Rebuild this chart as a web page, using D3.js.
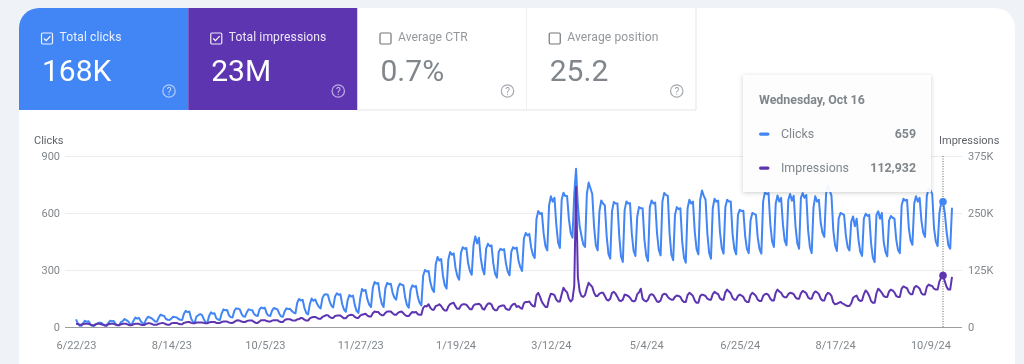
<!DOCTYPE html>
<html><head><meta charset="utf-8">
<script src="https://cdn.jsdelivr.net/npm/d3@7/dist/d3.min.js"></script>
<style>html,body{margin:0;padding:0;background:#eff3f8;overflow:hidden}svg{display:block;font-family:Roboto,sans-serif;filter:blur(0.35px)}</style>
</head><body><svg id="c" width="1024" height="364"></svg>
<script>
const startDate = "2023-06-22";
const dayCount = 488;
const clicks = [
40,19,7,6,21,33,27, 30,15,6,5,13,20,23, 22,14,11,10,22,33,30, 31,16,10,9,26,31,42,
36,30,16,15,33,50,44, 48,30,20,19,40,54,50, 46,38,29,28,50,65,60, 58,42,38,37,45,54,52,
50,42,38,37,70,85,78, 82,45,27,25,55,62,68, 64,42,25,23,58,77,70, 72,46,39,37,72,93,88,
90,62,52,50,84,98,96, 94,70,56,54,78,93,90, 88,68,60,58,92,103,98, 101,72,60,58,86,100,96,
93,70,56,54,82,98,94, 96,84,76,72,128,147,140, 143,100,74,66,120,150,138, 145,122,106,98,152,170,172,
170,135,112,103,160,177,170, 172,120,92,80,140,168,160, 165,115,85,74,150,200,190, 195,145,118,105,205,237,228,
232,165,122,105,205,232,225, 228,180,155,144,205,228,222, 220,155,115,102,195,219,212, 216,160,128,114,270,300,292,
295,235,200,184,330,368,350, 358,270,220,202,355,395,380, 388,310,268,249,390,420,412, 416,335,295,275,430,477,440,
470,365,305,277,412,438,425, 430,335,280,260,395,412,405, 410,335,292,272,395,420,412, 418,350,315,295,465,495,482,
490,420,380,363,570,610,595, 600,490,425,403,640,688,660, 680,540,445,416,670,707,690, 690,570,495,470,700,833,640,
530,480,435,421,700,760,730, 700,530,430,403,610,666,650, 640,480,385,360,610,658,650, 650,480,370,342,615,661,650,
652,490,400,374,580,631,625, 625,460,375,347,630,666,650, 655,495,405,377,660,705,695, 690,490,380,351,590,631,620,
625,450,365,338,625,670,650, 660,500,410,382,670,719,690, 670,490,390,360,625,675,660, 665,500,415,386,630,670,660,
660,490,410,382,590,617,610, 612,480,410,389,560,600,595, 590,470,410,386,660,710,700, 705,540,450,421,650,692,660,
680,540,455,430,670,700,665, 690,530,440,412,680,705,680, 695,510,420,389,630,688,660, 670,550,495,474,700,745,720,
690,510,430,400,570,600,595, 590,480,420,403,555,582,530, 570,460,395,374,570,596,585, 590,440,365,342,590,609,570,
600,450,395,372,560,584,575, 570,460,405,389,640,675,665, 670,520,455,433,650,688,660, 680,560,495,474,690,728,720,
700,520,450,426,600,655,659, 600,500,430,412,628
];
const impressions = [
7000,6500,5000,5000,6500,7000,7000, 7000,5000,4000,4000,6000,7000,7000, 6000,5000,3000,3000,6000,7000,7000, 7000,5000,4000,4000,6000,7000,7000,
7000,5000,4000,4000,6000,7000,7000, 7000,5000,4500,4500,7000,8000,8000, 7000,5000,5000,5000,7000,8000,9000, 8000,6000,5000,5000,8000,9000,9000,
9000,7000,6000,6000,9000,10000,11000, 11000,9000,8000,8000,10000,10000,10000, 10000,9000,8000,8000,10000,11000,11000, 11000,9000,9000,9000,11000,12000,12000,
12000,10000,9000,9000,11000,14000,15000, 14000,12000,11000,11000,13000,14000,14000, 14000,11000,9000,9000,12000,15000,15000, 15000,13000,12000,12000,14000,15000,15000,
15000,12000,11000,11000,15000,17000,17000, 17000,15000,14000,14000,17000,17000,20000, 19000,16000,14000,14000,19000,21000,22000, 22000,20000,18000,18000,22000,24000,26000,
26000,22000,20000,20000,24000,25000,25000, 25000,22000,19000,19000,24000,26000,27000, 26000,22000,20000,20000,25000,27000,28000, 29000,25000,23000,23000,30000,34000,33000,
33000,28000,26000,26000,31000,34000,34000, 34000,30000,27000,27000,31000,33000,34000, 30000,26000,24000,24000,29000,33000,32000, 33000,28000,27000,27000,42000,46000,45000,
50000,42000,38000,38000,46000,47000,50000, 46000,40000,36000,36000,45000,50000,52000, 53000,45000,40000,40000,47000,50000,50000, 49000,44000,39000,39000,47000,50000,50000,
51000,48000,40000,38000,46000,51000,52000, 49000,40000,37000,37000,44000,46000,47000, 47000,40000,38000,38000,46000,50000,51000, 44000,46000,42000,40000,52000,55000,55000,
56000,50000,46000,45000,70000,75000,66000, 55000,49000,44000,44000,62000,73000,72000, 70000,60000,56000,56000,72000,86000,80000, 76000,62000,56000,60000,90000,307000,110000,
78000,68000,66000,70000,85000,97000,92000, 88000,75000,68000,68000,73000,75000,75000, 68000,60000,58000,62000,75000,77000,73000, 66000,58000,57000,60000,71000,70000,68000,
64000,58000,56000,58000,72000,76000,84000, 62000,58000,56000,60000,70000,72000,70000, 63000,56000,55000,58000,70000,73000,72000, 66000,62000,60000,60000,66000,69000,68000,
66000,58000,55000,55000,70000,75000,72000, 68000,58000,53000,53000,68000,71000,70000, 68000,62000,60000,60000,72000,77000,74000, 72000,63000,60000,60000,76000,82000,78000,
74000,64000,60000,60000,68000,71000,69000, 66000,58000,55000,55000,70000,75000,72000, 68000,60000,57000,57000,68000,72000,73000, 70000,62000,58000,58000,75000,82000,78000,
75000,68000,65000,65000,72000,75000,74000, 72000,65000,62000,62000,74000,79000,77000, 74000,65000,62000,62000,73000,78000,76000, 72000,62000,58000,58000,70000,75000,73000,
68000,54000,50000,51000,53000,55000,52000, 50000,47000,46000,46000,52000,64000,67000, 69000,60000,57000,58000,72000,80000,76000, 68000,57000,53000,53000,74000,84000,80000,
75000,68000,66000,66000,78000,82000,80000, 76000,68000,66000,66000,84000,89000,87000, 85000,76000,72000,72000,86000,90000,88000, 84000,74000,71000,71000,88000,93000,91000,
90000,84000,82000,82000,100000,108000,112932, 100000,88000,82000,82000,110000
];
const xTickDates = ["2023-06-22","2023-08-14","2023-10-05","2023-11-27","2024-01-19","2024-03-12","2024-05-04","2024-06-25","2024-08-17","2024-10-09"];
const xTickLabels = ["6/22/23","8/14/23","10/5/23","11/27/23","1/19/24","3/12/24","5/4/24","6/25/24","8/17/24","10/9/24"];
const clickTicks = [0,300,600,900];
const impressionTicks = [0,125000,250000,375000];
const impressionTickLabels = ["0","125K","250K","375K"];
const cardTitles = ["Total clicks","Total impressions","Average CTR","Average position"];
const cardValues = ["168K","23M","0.7%","25.2"];
const cardChecked = [true,true,false,false];
const cardFills = ["#4285f4","#5e35b1","#ffffff","#ffffff"];
const tooltipDate = "Wednesday, Oct 16";
const tooltipNames = ["Clicks","Impressions"];
const tooltipValues = ["659","112,932"];
const hoverDate = "2024-10-16";

const BLUE="#4285f4",PURPLE="#5e35b1",GREY="#80868b";
const svg=d3.select("#c");
const parse=d3.utcParse("%Y-%m-%d");
const t0=parse(startDate);
const dates=d3.range(dayCount).map(i=>d3.utcDay.offset(t0,i));
const x=d3.scaleUtc().domain([t0,dates[dayCount-1]]).range([76,952]);
const yL=d3.scaleLinear().domain([0,900]).range([327,156]);
const yR=d3.scaleLinear().domain([0,375000]).range([327,156]);

const defs=svg.append("defs");
const f=defs.append("filter").attr("id","sh").attr("x","-10%").attr("y","-10%").attr("width","120%").attr("height","125%");
f.append("feDropShadow").attr("dx",0).attr("dy",1).attr("stdDeviation",2).attr("flood-color","#3c4043").attr("flood-opacity",0.28);

// panel
svg.append("path").attr("d","M19 364V28a20 20 0 0 1 20-20H995a20 20 0 0 1 20 20V364Z").attr("fill","#fff");

// cards
const cardX=d3.scaleBand().domain(d3.range(4)).range([19,696]);
const cards=svg.selectAll("g.card").data(d3.range(4)).join("g").attr("class","card")
 .attr("transform",i=>`translate(${cardX(i)},8)`);
const W=cardX.bandwidth();
cards.append("path").attr("d",i=>i===0?`M0 102V20a20 20 0 0 1 20-20H${W}V102Z`:`M0 0H${W}V102H0Z`).attr("fill",i=>cardFills[i]);
cards.filter(i=>i>=2).append("path").attr("d",`M0 102H${W}M${W} 0V102`).attr("stroke","#e3e5e8").attr("fill","none");
const fg=i=>i<2?"#fff":GREY;
cards.append("rect").attr("x",22.5).attr("y",25).attr("width",11).attr("height",11).attr("rx",1.2)
 .attr("fill","none").attr("stroke",i=>i<2?"#fff":"#757575").attr("stroke-opacity",i=>i<2?0.9:1).attr("stroke-width",1.2);
cards.filter(i=>cardChecked[i]).append("path").attr("d","M25 30.5l2.2 2.2 4.2-4.6").attr("fill","none").attr("stroke","#fff").attr("stroke-width",1.2);
cards.append("text").attr("x",40.5).attr("y",33).attr("font-size",12.1).attr("letter-spacing",0.1).attr("fill",fg).attr("fill-opacity",i=>i<2?0.88:0.85).text(i=>cardTitles[i]);
cards.append("text").attr("x",23).attr("y",73).attr("font-size",30).attr("fill",fg).text(i=>cardValues[i]);
cards.append("circle").attr("cx",150).attr("cy",83).attr("r",6.2).attr("fill","none").attr("stroke",i=>i<2?"#fff":"#9aa0a6").attr("stroke-opacity",i=>i<2?0.6:0.9).attr("stroke-width",1.2);
cards.append("text").attr("x",150).attr("y",86.8).attr("text-anchor","middle").attr("font-size",10).attr("fill",i=>i<2?"#fff":"#9aa0a6").attr("fill-opacity",i=>i<2?0.7:1).text("?");

// axes
const gridG=svg.append("g").attr("class","grid").call(d3.axisLeft(yL).tickValues(clickTicks).tickSize(-897).tickFormat(d=>d3.format("d")(d)).tickPadding(5))
 .attr("transform","translate(65,0)");
gridG.select(".domain").remove();
gridG.selectAll(".tick line").attr("stroke",d=>d===0?"#9e9e9e":"#ececee").attr("stroke-width",1);
gridG.selectAll(".tick text").attr("fill",GREY).attr("font-size",11).attr("font-family","Roboto");

const rightG=svg.append("g").call(d3.axisRight(yR).tickValues(impressionTicks).tickSize(0).tickPadding(6).tickFormat((d,i)=>impressionTickLabels[i]))
 .attr("transform","translate(962,0)");
rightG.select(".domain").remove();
rightG.selectAll("text").attr("fill",GREY).attr("font-size",11).attr("font-family","Roboto");

const xG=svg.append("g").attr("transform","translate(0,327)").call(d3.axisBottom(x).tickValues(xTickDates.map(parse)).tickSize(0).tickPadding(14).tickFormat((d,i)=>xTickLabels[i]));
xG.select(".domain").remove();
xG.selectAll("text").attr("fill",GREY).attr("font-size",11).attr("font-family","Roboto");

svg.append("text").attr("x",34).attr("y",144).attr("font-size",11).attr("fill","#5f6368").text("Clicks");
svg.append("text").attr("x",939).attr("y",144).attr("font-size",11).attr("fill","#5f6368").text("Impressions");

// lines
const lineL=d3.line().x((d,i)=>x(dates[i])).y(d=>yL(d));
const lineR=d3.line().x((d,i)=>x(dates[i])).y(d=>yR(d));
const plot=svg.append("g");
plot.append("path").datum(clicks).attr("d",lineL).attr("fill","none").attr("stroke",BLUE).attr("stroke-width",2).attr("stroke-linejoin","round");
plot.append("path").datum(impressions).attr("d",lineR).attr("fill","none").attr("stroke",PURPLE).attr("stroke-width",2).attr("stroke-linejoin","round");

// hover
const hd=parse(hoverDate), hi=d3.utcDay.count(t0,hd), hx=x(hd);
svg.append("line").attr("x1",hx).attr("x2",hx).attr("y1",yL(900)).attr("y2",yL(0)).attr("stroke","#5f6368").attr("stroke-width",1).attr("stroke-dasharray","1 1.5");
svg.append("circle").attr("cx",hx).attr("cy",yL(clicks[hi])).attr("r",3.8).attr("fill",BLUE);
svg.append("circle").attr("cx",hx).attr("cy",yR(impressions[hi])).attr("r",3.8).attr("fill",PURPLE);

// tooltip
const tip=svg.append("g").attr("transform","translate(743,75)");
tip.append("rect").attr("width",188).attr("height",117).attr("fill","#fff").attr("fill-opacity",0.93).attr("filter","url(#sh)");
tip.append("text").attr("x",16).attr("y",29).attr("font-size",12.4).attr("font-weight",700).attr("fill",GREY).text(tooltipDate);
const rows=tip.selectAll("g.r").data(tooltipNames).join("g").attr("class","r").attr("transform",(d,i)=>`translate(0,${63+i*34})`);
rows.append("rect").attr("x",16).attr("y",-5.5).attr("width",10.5).attr("height",3.2).attr("rx",1.6).attr("fill",(d,i)=>i?PURPLE:BLUE);
rows.append("text").attr("x",38).attr("y",0).attr("font-size",12.4).attr("fill",GREY).text(d=>d);
rows.append("text").attr("x",173).attr("y",0).attr("text-anchor","end").attr("font-size",12.4).attr("font-weight",700).attr("fill",GREY).text((d,i)=>tooltipValues[i]);
</script></body></html>
